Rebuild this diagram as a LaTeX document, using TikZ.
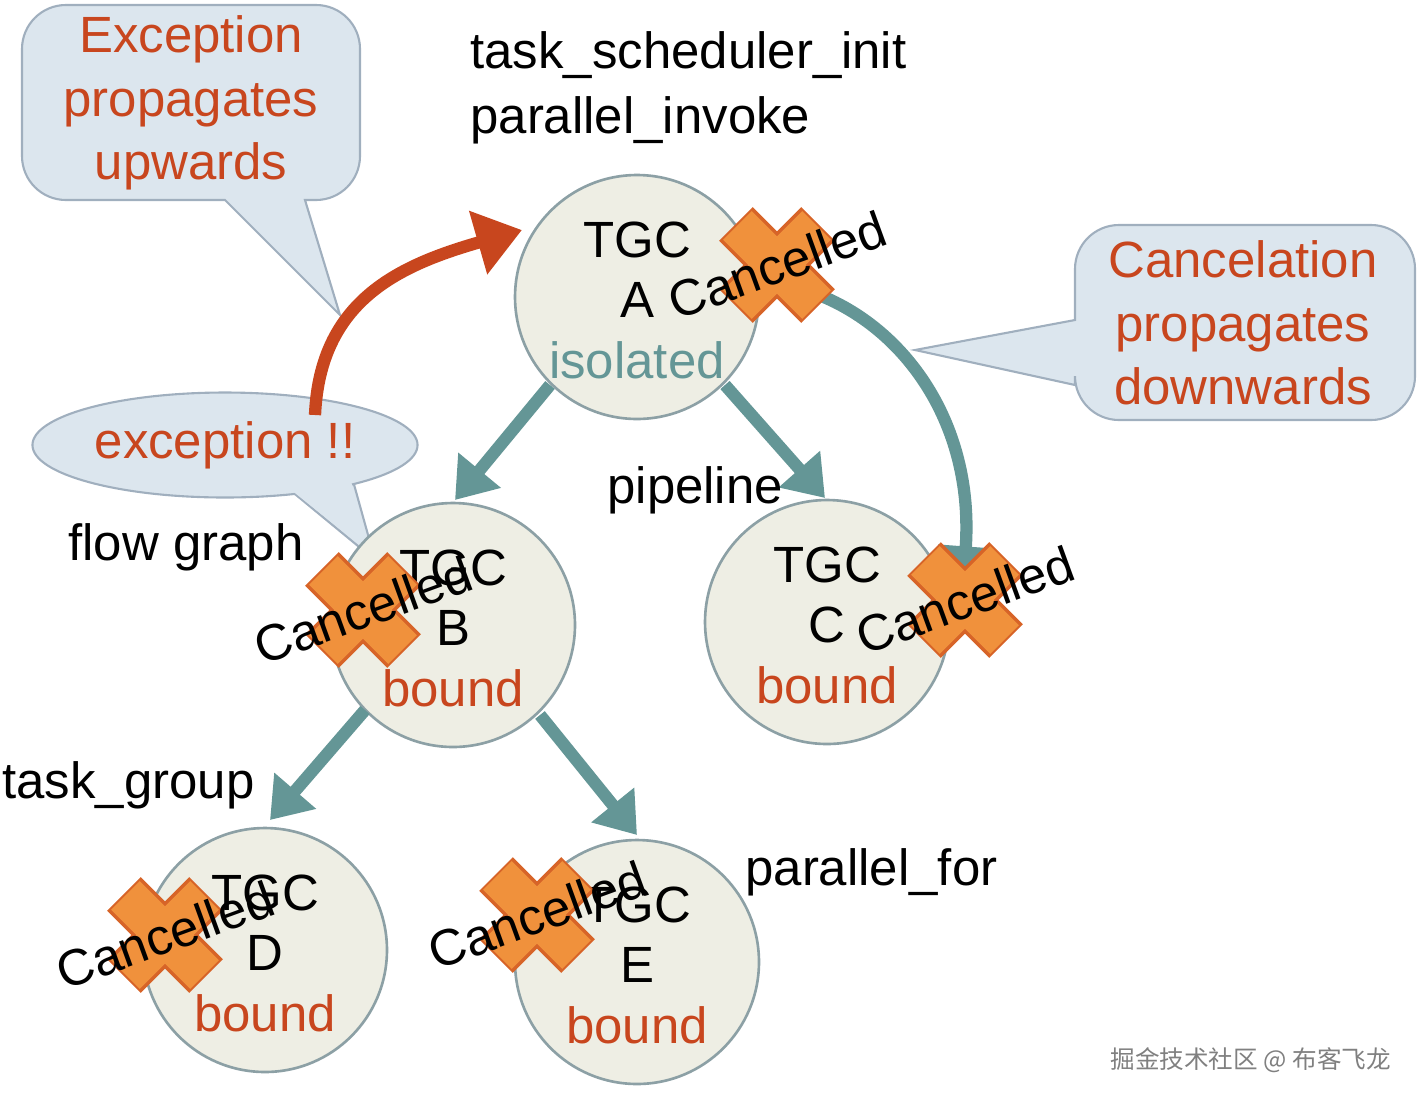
\documentclass[tikz,border=0pt]{standalone}
\usepackage{fontspec}
\setmainfont{Liberation Sans}
\newfontfamily\cjk{Noto Sans CJK SC}
\usetikzlibrary{shapes.geometric,arrows.meta,calc}
\definecolor{tgcfill}{RGB}{238,238,228}
\definecolor{tgcline}{RGB}{140,160,165}
\definecolor{tgcteal}{RGB}{100,150,150}
\definecolor{tgcred}{RGB}{200,70,30}
\definecolor{tgccross}{RGB}{240,145,60}
\definecolor{tgccrossb}{RGB}{215,100,40}
\definecolor{tgcnote}{RGB}{220,230,238}
\definecolor{tgcnoteb}{RGB}{160,175,190}
\tikzstyle{tgc}=[circle, draw=tgcline, line width=1.5pt, fill=tgcfill, minimum size=4.88cm, inner sep=0pt]
\tikzstyle{lbl}=[font=\fontsize{29}{34}\selectfont, inner sep=0pt]
\tikzstyle{note}=[draw=tgcnoteb, line width=1.2pt, fill=tgcnote]
\tikzstyle{notetext}=[text=tgcred, font=\fontsize{29}{36}\selectfont, align=center]
\tikzstyle{flow}=[line width=7pt, tgcteal, -{Triangle[length=22pt,width=30pt]}]
\newcommand{\tgcnode}[5]{
	\node[tgc] (#1) at (#2) {};
	\node[lbl] at ($(#2)+(0,-57)$) {TGC};
	\node[lbl] at ($(#2)+(0,3)$) {#3};
	\node[lbl, text=#4] at ($(#2)+(0,63)$) {#5};}
\newcommand{\tgccross}[2]{
	\foreach \a in {45,-45}
		\draw[tgccrossb, line width=27pt] ($(#2)+(\a:58)$) -- ($(#2)+(\a+180:58)$);
	\foreach \a in {45,-45}
		\draw[tgccross, line width=23pt] ($(#2)+(\a:56)$) -- ($(#2)+(\a+180:56)$);
	\node[lbl, rotate=20] (#1) at ($(#2)+(0,0)$) {Cancelled};}

\begin{document}
\begin{tikzpicture}[x=0.02cm, y=-0.02cm]
	\useasboundingbox (0,0) rectangle (1425,1103);

	% callouts
	\draw[note] (225,200) [rounded corners=25pt] -- (22,200) -- (22,5) -- (360,5) -- (360,200) [sharp corners] -- (305,200) -- (340,315) -- cycle;
	\node[notetext] (up) at (191,103) {Exception\\propagates\\upwards};
	\draw[note] (1075,320) [rounded corners=25pt] -- (1075,225) -- (1415,225) -- (1415,420) -- (1075,420) [sharp corners] -- (1075,385) -- (915,350) -- cycle;
	\node[notetext] (down) at (1243,323) {Cancelation\\propagates\\downwards};
	\draw[note] (375,560) -- (290,490) -- (350,470) -- cycle;
	\node[note, notetext, ellipse, minimum width=7.7cm, minimum height=2.1cm] (exc) at (225,445) {exception !!};
	\fill[tgcnote] (285,485) -- (350,478) -- (372,555) -- cycle;

	% groups
	\tgcnode{A}{637,297}{A}{tgcteal}{isolated}
	\tgcnode{B}{453,625}{B}{tgcred}{bound}
	\tgcnode{C}{827,622}{C}{tgcred}{bound}
	\tgcnode{D}{265,950}{D}{tgcred}{bound}
	\tgcnode{E}{637,962}{E}{tgcred}{bound}

	% arrows
	\draw[flow] (550,385) -- (455,500);
	\draw[flow] (725,385) -- (825,498);
	\draw[flow] (365,710) -- (270,820);
	\draw[flow] (540,715) -- (637,835);
	\draw[tgcred, line width=7pt, -{Triangle[length=26pt,width=36pt]}] (315,415) .. controls (320,300) and (400,265) .. (522,230);
	\draw[flow] (805,290) .. controls (900,320) and (975,420) .. (963,585);

	% crosses
	\tgccross{xA}{777,265}
	\tgccross{xB}{363,610}
	\tgccross{xC}{965,600}
	\tgccross{xD}{165,935}
	\tgccross{xE}{537,915}

	% labels
	\node[lbl, anchor=west] (tsi) at (470,55) {task\_scheduler\_init};
	\node[lbl, anchor=west] (pi) at (470,120) {parallel\_invoke};
	\node[lbl, anchor=west] (pl) at (607,490) {pipeline};
	\node[lbl, anchor=west] (fg) at (68,547) {flow graph};
	\node[lbl, anchor=west] (tg) at (2,785) {task\_group};
	\node[lbl, anchor=west] (pf) at (745,872) {parallel\_for};
	\node[anchor=east, text=gray, font=\cjk\fontsize{14}{16}\selectfont] (wm) at (1397,1060) {掘金技术社区 @ 布客飞龙};
\end{tikzpicture}
\end{document}
